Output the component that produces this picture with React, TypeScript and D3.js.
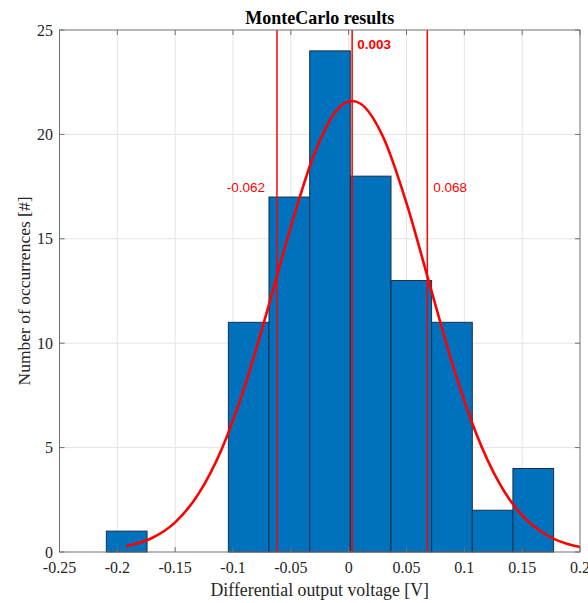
import React from 'react'
import * as d3 from 'd3'

// histogram bins (edges) and counts
const binEdges = [-0.2095, -0.1743, -0.1392, -0.104, -0.0689, -0.0337, 0.0014, 0.0366, 0.0717, 0.1069, 0.142, 0.1772]
const counts = [1, 0, 0, 11, 17, 24, 18, 13, 11, 2, 4]

// fitted normal curve
const fitX = [-0.1927, -0.17, -0.15, -0.13, -0.11, -0.09, -0.07, -0.05, -0.03, -0.01, 0.003, 0.01, 0.03, 0.05, 0.07, 0.09, 0.11, 0.13, 0.15, 0.17, 0.19, 0.2]
const fitY = [0.28, 0.67, 1.42, 2.77, 4.9, 7.91, 11.63, 15.58, 19.03, 21.18, 21.6, 21.48, 19.85, 16.71, 12.82, 8.96, 5.71, 3.32, 1.75, 0.85, 0.37, 0.24]

// mean and +/- sigma markers
const markers = [-0.062, 0.003, 0.068]
const markerLabels = ['-0.062', '0.003', '0.068']

const xTicks = [-0.25, -0.2, -0.15, -0.1, -0.05, 0, 0.05, 0.1, 0.15, 0.2]
const xTickLabels = ['-0.25', '-0.2', '-0.15', '-0.1', '-0.05', '0', '0.05', '0.1', '0.15', '0.2']
const yTicks = [0, 5, 10, 15, 20, 25]

const W = 588
const H = 603
const left = 59.5
const right = 580
const top = 30
const bottom = 552

const serif = '"Liberation Serif", "Times New Roman", serif'
const sans = '"Liberation Sans", Arial, sans-serif'

const App = () => {
  const x = d3.scaleLinear().domain([-0.25, 0.2]).range([left, right])
  const y = d3.scaleLinear().domain([0, 25]).range([bottom, top])

  const line = d3
    .line<number>()
    .x((_, i) => x(fitX[i]))
    .y((d) => y(d))
    .curve(d3.curveMonotoneX)

  const axisColor = '#707070'
  const tickLen = 5

  return (
    <svg width={W} height={H} style={{ position: 'absolute', left: 0, top: 0 }}>
      <rect x={0} y={0} width={W} height={H} fill="white" />
      {/* grid */}
      <g stroke="#e4e4e4" strokeWidth={1}>
        {xTicks.slice(1, -1).map((t) => (
          <line key={`gx${t}`} x1={x(t)} x2={x(t)} y1={top} y2={bottom} />
        ))}
        {yTicks.slice(1, -1).map((t) => (
          <line key={`gy${t}`} x1={left} x2={right} y1={y(t)} y2={y(t)} />
        ))}
      </g>
      {/* bars */}
      <g fill="#0072BD" stroke="#1b2f45" strokeWidth={1}>
        {counts.map((c, i) =>
          c > 0 ? (
            <rect
              key={`b${i}`}
              x={x(binEdges[i])}
              y={y(c)}
              width={x(binEdges[i + 1]) - x(binEdges[i])}
              height={y(0) - y(c)}
            />
          ) : null
        )}
      </g>
      {/* marker lines */}
      <g stroke="#ff0000" strokeWidth={1.5}>
        {markers.map((m) => (
          <line key={`m${m}`} x1={x(m)} x2={x(m)} y1={top} y2={bottom} />
        ))}
      </g>
      {/* fitted curve */}
      <path d={line(fitY) || ''} fill="none" stroke="#ff0000" strokeWidth={2.6} />
      {/* marker labels */}
      <text x={x(markers[0]) - 12} y={192} textAnchor="end" fontFamily={sans} fontSize={13.5} fill="#ff0000">
        {markerLabels[0]}
      </text>
      <text x={x(markers[1]) + 5} y={49} fontFamily={sans} fontSize={13.5} fontWeight="bold" fill="#ff0000">
        {markerLabels[1]}
      </text>
      <text x={x(markers[2]) + 6} y={192} fontFamily={sans} fontSize={13.5} fill="#ff0000">
        {markerLabels[2]}
      </text>
      {/* frame and ticks */}
      <g stroke={axisColor} strokeWidth={1}>
        <rect x={left} y={top} width={right - left} height={bottom - top} fill="none" />
        {xTicks.map((t) => (
          <g key={`tx${t}`}>
            <line x1={x(t)} x2={x(t)} y1={bottom} y2={bottom - tickLen} />
            <line x1={x(t)} x2={x(t)} y1={top} y2={top + tickLen} />
          </g>
        ))}
        {yTicks.map((t) => (
          <g key={`ty${t}`}>
            <line x1={left} x2={left + tickLen} y1={y(t)} y2={y(t)} />
            <line x1={right} x2={right - tickLen} y1={y(t)} y2={y(t)} />
          </g>
        ))}
      </g>
      {/* tick labels */}
      <g fontFamily={serif} fontSize={16} fill="#262626">
        {xTicks.map((t, i) => (
          <text key={`lx${t}`} x={x(t)} y={573} textAnchor="middle">
            {xTickLabels[i]}
          </text>
        ))}
        {yTicks.map((t) => (
          <text key={`ly${t}`} x={53} y={y(t) + 5.5} textAnchor="end">
            {t}
          </text>
        ))}
      </g>
      {/* titles */}
      <text x={(left + right) / 2} y={24} textAnchor="middle" fontFamily={serif} fontSize={18} fontWeight="bold" fill="#000">
        MonteCarlo results
      </text>
      <text x={(left + right) / 2} y={596} textAnchor="middle" fontFamily={serif} fontSize={17.8} fill="#262626">
        Differential output voltage [V]
      </text>
      <text
        transform={`translate(30 ${(top + bottom) / 2}) rotate(-90)`}
        textAnchor="middle"
        fontFamily={serif}
        fontSize={17.5}
        fill="#262626"
      >
        Number of occurrences [#]
      </text>
    </svg>
  )
}

export default App
